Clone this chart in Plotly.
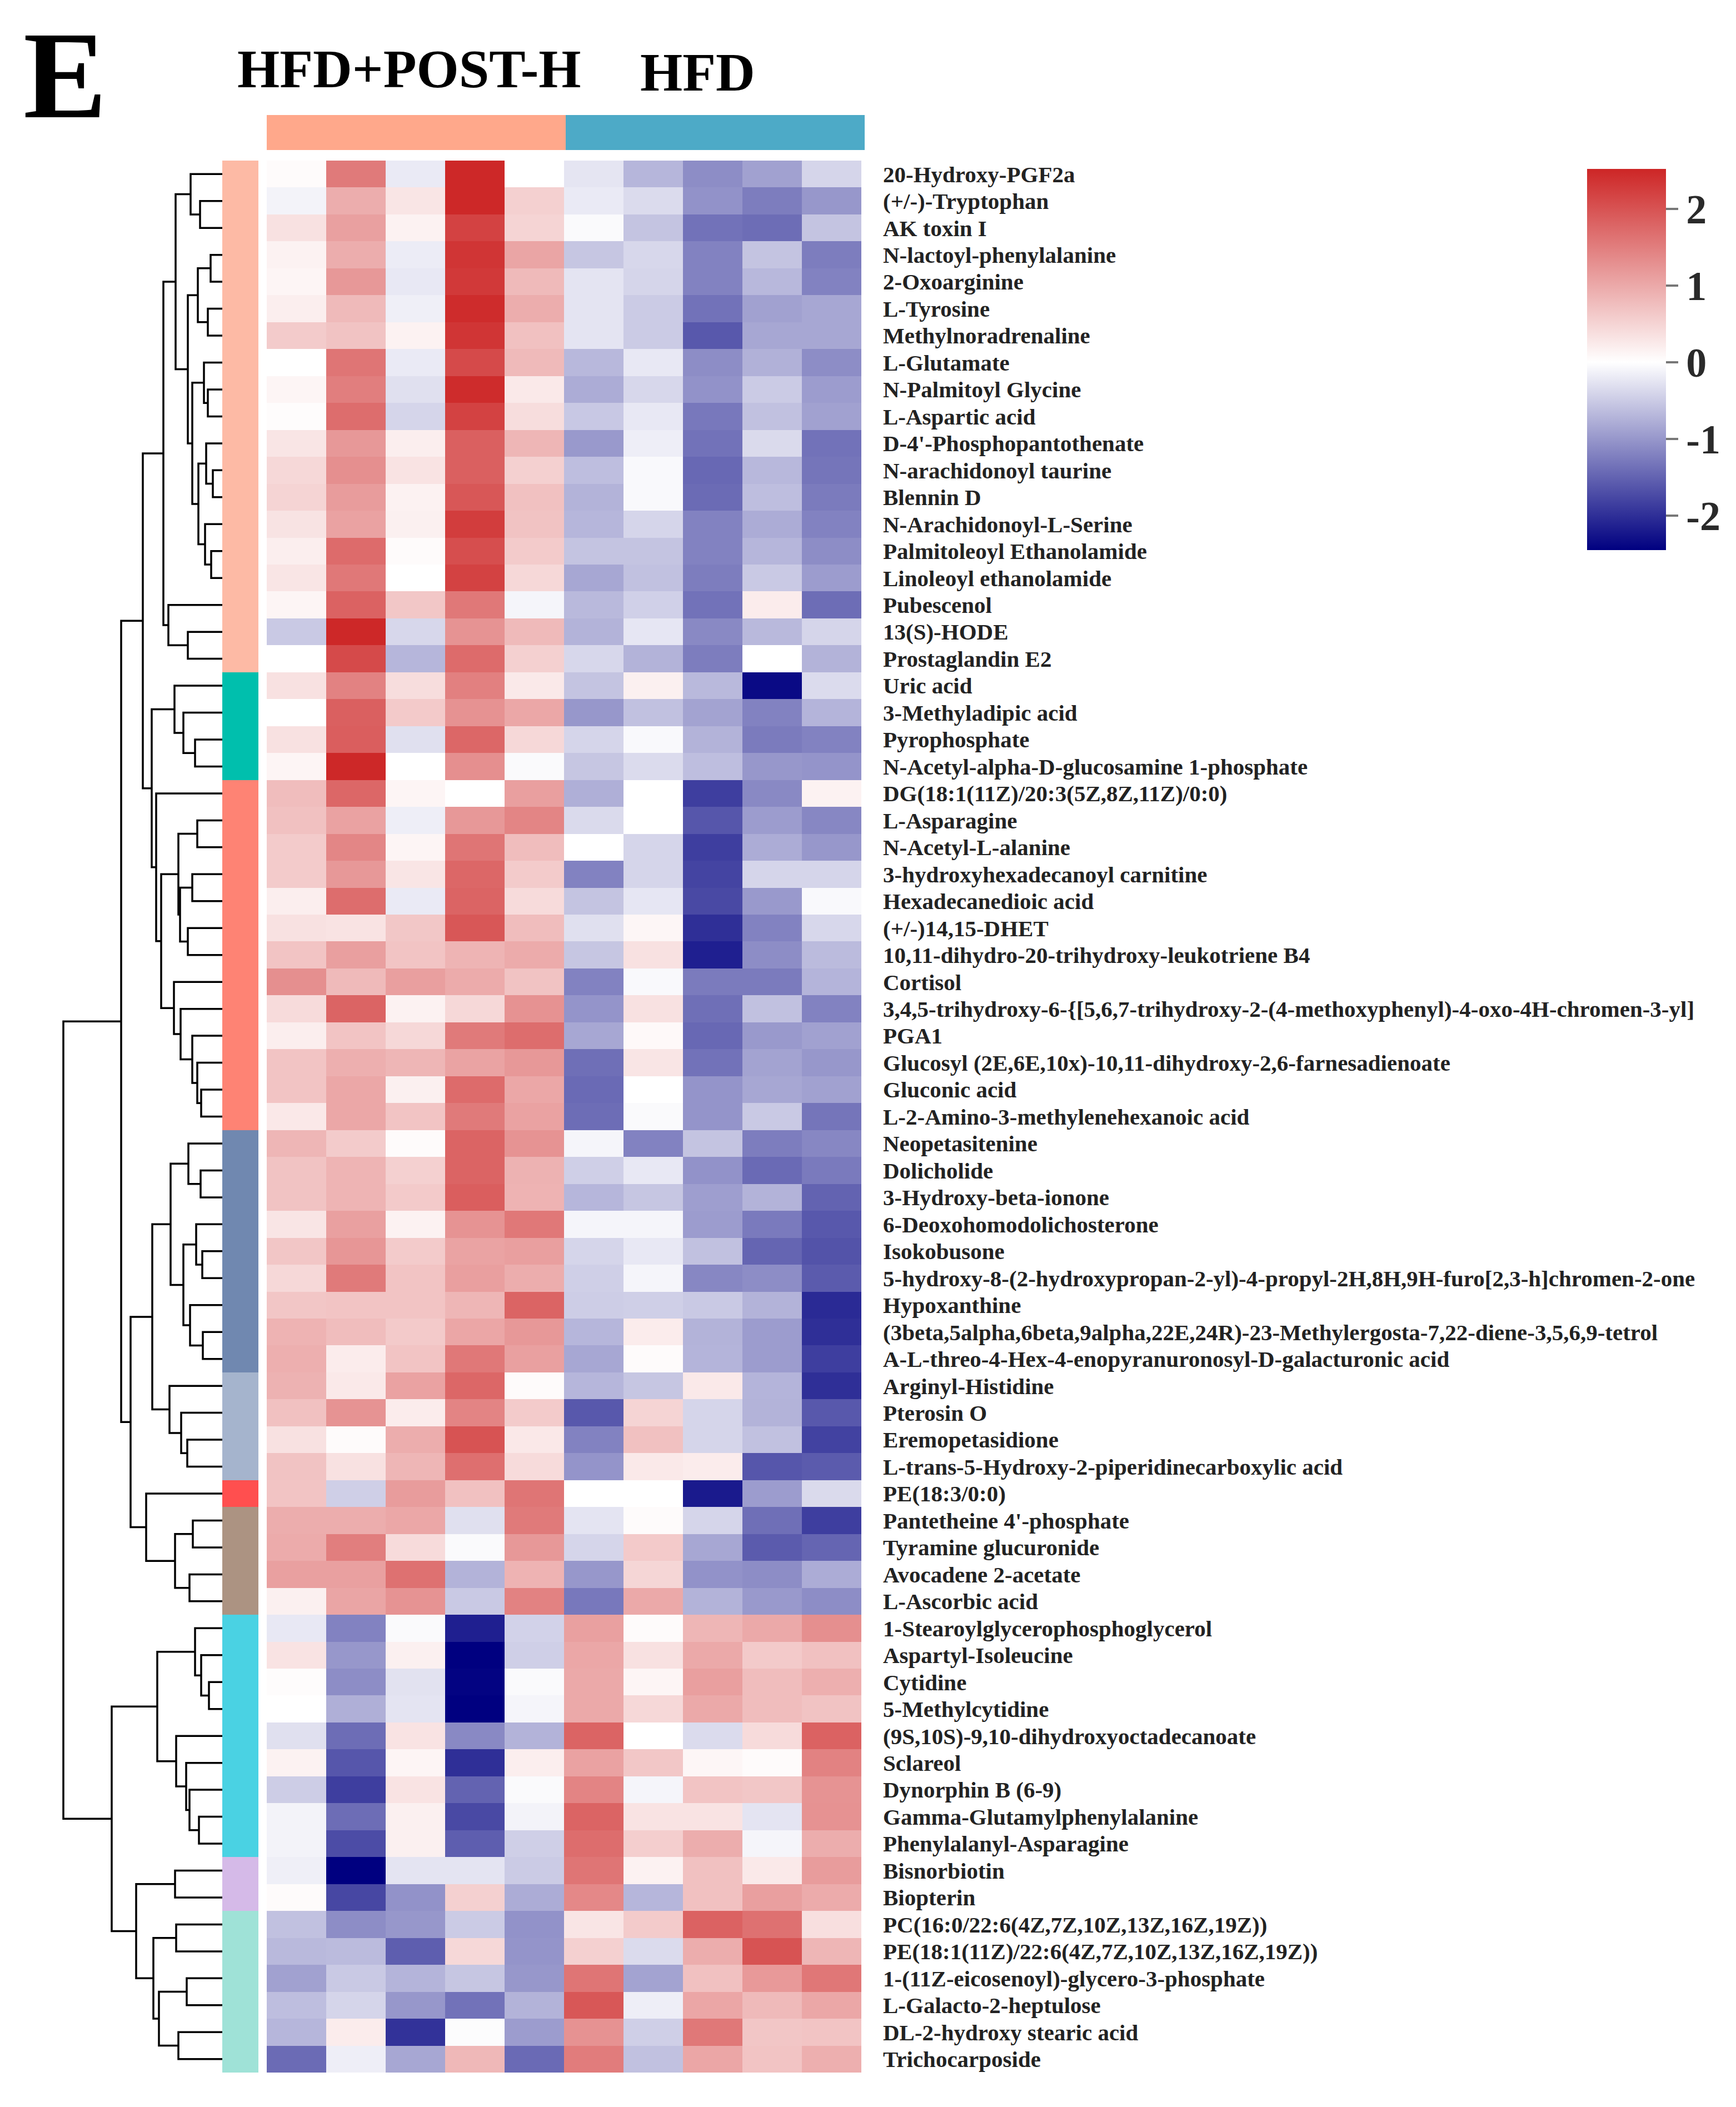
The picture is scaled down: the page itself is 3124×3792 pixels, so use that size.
import plotly.graph_objects as go

# ---------------- data ----------------
metabolites = [
    "20-Hydroxy-PGF2a", "(+/-)-Tryptophan", "AK toxin I", "N-lactoyl-phenylalanine", "2-Oxoarginine",
    "L-Tyrosine", "Methylnoradrenaline", "L-Glutamate", "N-Palmitoyl Glycine", "L-Aspartic acid",
    "D-4'-Phosphopantothenate", "N-arachidonoyl taurine", "Blennin D", "N-Arachidonoyl-L-Serine",
    "Palmitoleoyl Ethanolamide", "Linoleoyl ethanolamide", "Pubescenol", "13(S)-HODE", "Prostaglandin E2",
    "Uric acid", "3-Methyladipic acid", "Pyrophosphate", "N-Acetyl-alpha-D-glucosamine 1-phosphate",
    "DG(18:1(11Z)/20:3(5Z,8Z,11Z)/0:0)", "L-Asparagine", "N-Acetyl-L-alanine",
    "3-hydroxyhexadecanoyl carnitine", "Hexadecanedioic acid", "(+/-)14,15-DHET",
    "10,11-dihydro-20-trihydroxy-leukotriene B4", "Cortisol",
    "3,4,5-trihydroxy-6-{[5,6,7-trihydroxy-2-(4-methoxyphenyl)-4-oxo-4H-chromen-3-yl]",
    "PGA1", "Glucosyl (2E,6E,10x)-10,11-dihydroxy-2,6-farnesadienoate", "Gluconic acid",
    "L-2-Amino-3-methylenehexanoic acid", "Neopetasitenine", "Dolicholide", "3-Hydroxy-beta-ionone",
    "6-Deoxohomodolichosterone", "Isokobusone",
    "5-hydroxy-8-(2-hydroxypropan-2-yl)-4-propyl-2H,8H,9H-furo[2,3-h]chromen-2-one",
    "Hypoxanthine", "(3beta,5alpha,6beta,9alpha,22E,24R)-23-Methylergosta-7,22-diene-3,5,6,9-tetrol",
    "A-L-threo-4-Hex-4-enopyranuronosyl-D-galacturonic acid", "Arginyl-Histidine", "Pterosin O",
    "Eremopetasidione", "L-trans-5-Hydroxy-2-piperidinecarboxylic acid", "PE(18:3/0:0)",
    "Pantetheine 4'-phosphate", "Tyramine glucuronide", "Avocadene 2-acetate", "L-Ascorbic acid",
    "1-Stearoylglycerophosphoglycerol", "Aspartyl-Isoleucine", "Cytidine", "5-Methylcytidine",
    "(9S,10S)-9,10-dihydroxyoctadecanoate", "Sclareol", "Dynorphin B (6-9)",
    "Gamma-Glutamylphenylalanine", "Phenylalanyl-Asparagine", "Bisnorbiotin", "Biopterin",
    "PC(16:0/22:6(4Z,7Z,10Z,13Z,16Z,19Z))", "PE(18:1(11Z)/22:6(4Z,7Z,10Z,13Z,16Z,19Z))",
    "1-(11Z-eicosenoyl)-glycero-3-phosphate", "L-Galacto-2-heptulose", "DL-2-hydroxy stearic acid",
    "Trichocarposide",
]

group_names = ["HFD+POST-H", "HFD"]
samples_per_group = 5

# z-scores, samples 1-5 (HFD+POST-H)
hfd_post_h = [
    [0.05, 1.55, -0.2, 2.5, 0.0], [-0.12, 0.95, 0.3, 2.5, 0.55], [0.35, 1.1, 0.15, 2.2, 0.5],
    [0.15, 0.95, -0.18, 2.35, 1.05], [0.12, 1.2, -0.22, 2.3, 0.8], [0.2, 0.8, -0.15, 2.45, 0.95],
    [0.6, 0.7, 0.15, 2.35, 0.72], [0.0, 1.6, -0.2, 2.1, 0.8], [0.12, 1.5, -0.3, 2.45, 0.25],
    [0.03, 1.7, -0.4, 2.2, 0.4], [0.3, 1.2, 0.2, 1.85, 0.85], [0.45, 1.3, 0.32, 1.85, 0.55],
    [0.5, 1.15, 0.15, 1.95, 0.72], [0.33, 1.08, 0.18, 2.25, 0.7], [0.2, 1.72, 0.05, 2.05, 0.6],
    [0.3, 1.57, 0.0, 2.2, 0.45], [0.12, 1.82, 0.65, 1.57, -0.1], [-0.52, 2.5, -0.38, 1.25, 0.8],
    [0.0, 2.1, -0.7, 1.72, 0.55], [0.35, 1.45, 0.4, 1.47, 0.25], [0.0, 1.85, 0.62, 1.27, 1.02],
    [0.35, 1.87, -0.3, 1.77, 0.45], [0.12, 2.5, 0.0, 1.3, -0.05], [0.77, 1.77, 0.12, 0.0, 1.12],
    [0.72, 1.08, -0.16, 1.2, 1.42], [0.6, 1.4, 0.12, 1.6, 0.77], [0.6, 1.2, 0.3, 1.77, 0.6],
    [0.2, 1.7, -0.2, 1.8, 0.42], [0.35, 0.32, 0.65, 1.95, 0.77], [0.68, 1.12, 0.68, 0.87, 0.97],
    [1.3, 0.8, 1.12, 0.97, 0.7], [0.42, 1.8, 0.15, 0.45, 1.27], [0.2, 0.68, 0.45, 1.55, 1.7],
    [0.68, 0.93, 0.85, 1.07, 1.2], [0.68, 1.02, 0.18, 1.72, 1.02], [0.27, 1.02, 0.68, 1.55, 1.08],
    [0.85, 0.6, 0.05, 1.8, 1.25], [0.7, 0.87, 0.55, 1.8, 0.9], [0.7, 0.87, 0.62, 1.87, 0.88],
    [0.3, 1.1, 0.15, 1.25, 1.57], [0.66, 1.22, 0.6, 1.07, 1.12], [0.45, 1.55, 0.68, 1.12, 0.95],
    [0.66, 0.68, 0.68, 0.85, 1.8], [0.88, 0.77, 0.62, 1.03, 1.2], [0.93, 0.22, 0.68, 1.57, 1.1],
    [0.9, 0.25, 1.08, 1.77, 0.05], [0.72, 1.25, 0.22, 1.43, 0.6], [0.35, 0.05, 0.95, 2.0, 0.27],
    [0.7, 0.35, 0.85, 1.67, 0.42], [0.68, -0.46, 1.15, 0.72, 1.6], [0.95, 0.95, 1.02, -0.3, 1.55],
    [0.97, 1.5, 0.42, -0.05, 1.2], [1.1, 1.1, 1.65, -0.73, 0.88], [0.18, 1.05, 1.25, -0.52, 1.45],
    [-0.22, -1.2, -0.05, -2.15, -0.43], [0.32, -1.0, 0.18, -2.5, -0.46], [0.03, -1.1, -0.28, -2.42, -0.05],
    [0.0, -0.77, -0.26, -2.5, -0.1], [-0.3, -1.4, 0.32, -1.13, -0.73], [0.15, -1.62, 0.12, -2.0, 0.2],
    [-0.48, -1.85, 0.32, -1.5, -0.05], [-0.12, -1.4, 0.18, -1.75, -0.12], [-0.12, -1.72, 0.18, -1.55, -0.46],
    [-0.15, -2.45, -0.26, -0.26, -0.5], [0.05, -1.77, -1.05, 0.55, -0.8], [-0.6, -1.1, -1.0, -0.5, -1.05],
    [-0.67, -0.65, -1.55, 0.45, -1.03], [-0.9, -0.52, -0.72, -0.55, -1.0], [-0.62, -0.4, -1.0, -1.35, -0.73],
    [-0.7, 0.22, -1.97, -0.03, -0.95], [-1.42, -0.16, -0.85, 0.83, -1.43],
]

# z-scores, samples 6-10 (HFD)
hfd = [
    [-0.25, -0.7, -1.1, -0.9, -0.4], [-0.2, -0.35, -1.05, -1.25, -1.0], [-0.05, -0.57, -1.35, -1.4, -0.57],
    [-0.55, -0.38, -1.2, -0.57, -1.25], [-0.26, -0.4, -1.2, -0.68, -1.2], [-0.26, -0.5, -1.35, -0.9, -0.85],
    [-0.26, -0.5, -1.6, -0.85, -0.85], [-0.68, -0.22, -1.1, -0.75, -1.1], [-0.8, -0.38, -1.05, -0.5, -0.95],
    [-0.53, -0.22, -1.3, -0.6, -0.9], [-0.98, -0.16, -1.35, -0.36, -1.35], [-0.62, -0.06, -1.45, -0.68, -1.33],
    [-0.73, -0.06, -1.42, -0.62, -1.27], [-0.7, -0.4, -1.2, -0.8, -1.2], [-0.57, -0.57, -1.2, -0.7, -1.1],
    [-0.85, -0.6, -1.25, -0.52, -0.95], [-0.67, -0.45, -1.35, 0.22, -1.4], [-0.73, -0.24, -1.13, -0.67, -0.4],
    [-0.38, -0.73, -1.25, 0.0, -0.73], [-0.57, 0.18, -0.67, -2.35, -0.35], [-1.0, -0.6, -0.88, -1.2, -0.72],
    [-0.4, -0.06, -0.73, -1.27, -1.2], [-0.55, -0.35, -0.62, -1.0, -1.03], [-0.77, 0.0, -1.85, -1.13, 0.15],
    [-0.36, 0.0, -1.62, -0.95, -1.15], [0.0, -0.4, -1.85, -0.8, -1.0], [-1.2, -0.4, -1.8, -0.4, -0.4],
    [-0.57, -0.24, -1.75, -0.98, -0.06], [-0.3, 0.1, -2.0, -1.2, -0.38], [-0.55, 0.35, -2.15, -1.1, -0.65],
    [-1.2, -0.06, -1.27, -1.27, -0.72], [-1.03, 0.35, -1.38, -0.6, -1.2], [-0.85, 0.07, -1.45, -0.98, -0.9],
    [-1.38, 0.3, -1.35, -0.88, -1.0], [-1.43, 0.0, -1.03, -0.85, -0.9], [-1.4, -0.05, -1.03, -0.52, -1.33],
    [-0.1, -1.2, -0.57, -1.25, -1.15], [-0.46, -0.22, -1.05, -1.43, -1.28], [-0.7, -0.55, -0.93, -0.73, -1.5],
    [-0.1, -0.1, -0.95, -1.28, -1.6], [-0.4, -0.22, -0.6, -1.48, -1.65], [-0.46, -0.1, -1.15, -1.1, -1.58],
    [-0.48, -0.46, -0.52, -0.73, -2.05], [-0.7, 0.22, -0.73, -0.95, -2.0], [-0.85, 0.05, -0.72, -0.95, -1.85],
    [-0.7, -0.55, 0.25, -0.72, -2.0], [-1.6, 0.5, -0.4, -0.73, -1.6], [-1.2, 0.72, -0.4, -0.6, -1.82],
    [-1.03, 0.25, 0.22, -1.62, -1.58], [0.0, 0.0, -2.2, -0.95, -0.36], [-0.26, 0.05, -0.4, -1.38, -1.85],
    [-0.4, 0.62, -0.85, -1.58, -1.48], [-1.0, 0.48, -1.05, -1.1, -0.8], [-1.3, 1.0, -0.73, -0.98, -1.1],
    [1.1, 0.05, 0.85, 1.0, 1.3], [1.02, 0.35, 1.0, 0.62, 0.72], [1.0, 0.12, 1.12, 0.77, 0.93],
    [1.0, 0.45, 1.0, 0.77, 0.7], [1.8, 0.0, -0.35, 0.42, 1.82], [1.08, 0.65, 0.1, 0.05, 1.45],
    [1.43, -0.1, 0.68, 0.65, 1.25], [1.8, 0.32, 0.32, -0.26, 1.27], [1.7, 0.57, 0.95, -0.1, 0.95],
    [1.6, 0.15, 0.72, 0.25, 1.15], [1.38, -0.7, 0.72, 1.12, 0.97], [0.3, 0.6, 1.82, 1.65, 0.37],
    [0.55, -0.35, 0.95, 2.0, 0.85], [1.6, -0.88, 0.72, 1.18, 1.58], [1.95, -0.16, 1.03, 0.8, 1.02],
    [1.27, -0.46, 1.57, 0.66, 0.68], [1.52, -0.6, 1.03, 0.68, 0.93],
]

# row cluster annotation (sizes in order, top to bottom) and colours
cluster_sizes = [19, 4, 13, 9, 4, 1, 4, 9, 2, 6]
cluster_colors = ["#FDBAA5", "#00BFAD", "#FE8374", "#7088B0", "#A5B4CD",
                  "#FF4F4F", "#AC9382", "#4AD2E3", "#D5BAE8", "#9FE2D7"]
group_colors = ["#FFA88B", "#4DAAC7"]

# row dendrogram: (left, right, merge height); ints are row indices
dendro_tree = (
    (
        (
            (
                ((0, (1, 2, 40), 57),
                 (((3, 4, 21), (5, 6, 26), 44),
                  ((7, (8, 9, 26), 33),
                   ((10, (11, 12, 17), 29), (13, (14, 15, 20), 31), 43), 54), 62), 84),
                (16, (17, 18, 62), 97), 106),
            ((19, (20, (21, 22, 49), 70), 86),
             (23, ((((24, 25, 45), ((26, 27, 54), (28, 29, 62), 76), 79)),
                   (30, (31, (32, (33, (34, 35, 38), 45), 54), 75), 87), 110), 119), 127),
            143),
        ((((36, (37, 38, 39), 61),
           ((39, (40, 41, 36), 47), (42, (43, 44, 35), 58), 70), 93),
          (45, (46, (47, 48, 63), 74), 95), 126),
         (49, ((50, 51, 53), (52, 53, 59), 85), 137), 165),
        182),
    (((54, (55, (56, 57, 24), 38), 49),
      (58, (59, (60, (61, 62, 42), 59), 65), 83), 117),
     ((63, 64, 85),
      ((65, 66, 83), ((67, 68, 64), (69, 70, 79), 114), 124), 155), 199),
    286,
)

# ---------------- geometry (figure pixels) ----------------
W, H = 3124, 3792
def fx(px):
    return px / W
def fy(py):
    return 1 - py / H

hm_x0, hm_x1 = 472, 1542
hm_y0, hm_y1 = 281, 3722
bar_x0, bar_x1 = 392, 457
den_x0 = 102
top_y0, top_y1 = 199, 262

n_rows = len(metabolites)
z = [a + b for a, b in zip(hfd_post_h, hfd)]
n_cols = len(z[0])

zmin, zmax = -2.45, 2.52
mid = -zmin / (zmax - zmin)
colorscale = [[0, "#000080"], [mid, "#FFFFFF"], [1, "#CD2626"]]

FONT = "Liberation Serif"

fig = go.Figure()

# main heatmap
fig.add_trace(go.Heatmap(
    z=z, x=list(range(n_cols)), y=list(range(n_rows)),
    colorscale=colorscale, zmin=zmin, zmax=zmax,
    xaxis="x", yaxis="y",
    colorbar=dict(
        x=fx(2838), xanchor="left", y=fy(286), yanchor="top",
        thickness=142, thicknessmode="pixels",
        len=706, lenmode="pixels",
        outlinewidth=0,
        tickvals=[-2, -1, 0, 1, 2], ticktext=["-2", "-1", "0", "1", "2"],
        ticks="outside", ticklen=22, tickwidth=4, tickcolor="#777777",
        tickfont=dict(family=FONT, size=74, color="#2a2a2a", weight="bold"),
    ),
    hoverinfo="skip",
))

# row-cluster side bar
cluster_id = []
for k, s in enumerate(cluster_sizes):
    cluster_id += [k] * s
nk = len(cluster_colors)
cs_side = []
for k, c in enumerate(cluster_colors):
    cs_side.append([k / nk, c])
    cs_side.append([(k + 1) / nk, c])
fig.add_trace(go.Heatmap(
    z=[[c] for c in cluster_id], x=[0], y=list(range(n_rows)),
    colorscale=cs_side, zmin=-0.5, zmax=nk - 0.5, showscale=False,
    xaxis="x3", yaxis="y", hoverinfo="skip",
))

# column group bar
col_group = []
for g in range(len(group_names)):
    col_group += [g] * samples_per_group
fig.add_trace(go.Heatmap(
    z=[col_group], x=list(range(n_cols)), y=[0],
    colorscale=[[0, group_colors[0]], [0.5, group_colors[0]], [0.5, group_colors[1]], [1, group_colors[1]]],
    zmin=-0.5, zmax=1.5, showscale=False,
    xaxis="x4", yaxis="y4", hoverinfo="skip",
))

# dendrogram segments
dx, dy = [], []
def walk(node):
    if isinstance(node, int):
        return float(node), 0.0
    left, right, h = node
    yl, hl = walk(left)
    yr, hr = walk(right)
    dx.extend([hl, h, h, hr, None])
    dy.extend([yl, yl, yr, yr, None])
    return (yl + yr) / 2, h

walk(dendro_tree)
fig.add_trace(go.Scatter(
    x=dx, y=dy, mode="lines", line=dict(color="black", width=3.5),
    xaxis="x2", yaxis="y", hoverinfo="skip", showlegend=False,
))

hidden = dict(visible=False, showgrid=False, zeroline=False)
root_h = dendro_tree[2]
fig.update_layout(
    width=W, height=H,
    margin=dict(l=0, r=0, t=0, b=0),
    paper_bgcolor="white", plot_bgcolor="white",
    showlegend=False,
    xaxis=dict(domain=[fx(hm_x0), fx(hm_x1)], range=[-0.5, n_cols - 0.5], anchor="y", **hidden),
    yaxis=dict(
        domain=[fy(hm_y1), fy(hm_y0)], range=[n_rows - 0.5, -0.5], anchor="x",
        side="right", tickvals=list(range(n_rows)), ticktext=metabolites,
        ticks="", showgrid=False, zeroline=False, showline=False,
        ticklabelstandoff=38,
        tickfont=dict(family=FONT, size=41, color="#222222", weight="bold"),
    ),
    xaxis2=dict(domain=[fx(den_x0), fx(bar_x0)], range=[root_h + 4, 0], anchor="y", **hidden),
    xaxis3=dict(domain=[fx(bar_x0), fx(bar_x1)], range=[-0.5, 0.5], anchor="y", **hidden),
    xaxis4=dict(domain=[fx(hm_x0), fx(1548)], range=[-0.5, n_cols - 0.5], anchor="y4", **hidden),
    yaxis4=dict(domain=[fy(top_y1), fy(top_y0)], range=[-0.5, 0.5], anchor="x4", **hidden),
)

fig.add_annotation(x=fx(109), y=1.0, xref="paper", yref="paper", text="E", showarrow=False,
                   font=dict(family=FONT, size=225, color="black", weight="bold"),
                   xanchor="center", yanchor="top")
fig.add_annotation(x=fx(728), y=fy(116), xref="paper", yref="paper", text=group_names[0], showarrow=False,
                   font=dict(family=FONT, size=98, color="black", weight="bold"),
                   xanchor="center", yanchor="middle")
fig.add_annotation(x=fx(1247), y=fy(122), xref="paper", yref="paper", text=group_names[1], showarrow=False,
                   font=dict(family=FONT, size=98, color="black", weight="bold"),
                   xanchor="center", yanchor="middle")

fig.write_html("out.html")
